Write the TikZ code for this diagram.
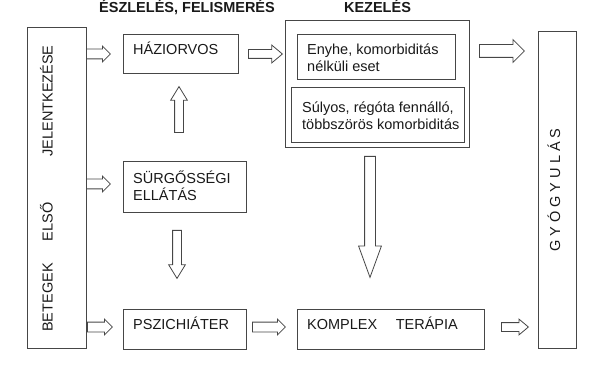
\documentclass[tikz,border=0pt]{standalone}
\usepackage{fontspec}
\setmainfont{Liberation Sans}
\definecolor{dgray}{RGB}{70,70,70}
\definecolor{tblack}{RGB}{25,25,25}
\usetikzlibrary{shapes.arrows}
\newcommand{\txtstrut}{\rule{0pt}{15pt}}
\begin{document}
\begin{tikzpicture}[x=1pt,y=-1pt,
  frbox/.style={draw=dgray,line width=0.9pt,inner sep=0pt},
  frtext/.style={anchor=north west,inner sep=0pt,align=left,text=tblack,
    font=\fontsize{14.5}{17.6}\selectfont},
  vtext/.style={rotate=90,anchor=base west,inner sep=0pt,text=tblack,
    font=\fontsize{14.5}{17.6}\selectfont},
  headtext/.style={anchor=base,inner sep=0pt,text=tblack,
    font=\fontsize{14.5}{17.6}\selectfont\bfseries},
  blockarr/.style={single arrow,draw=dgray,line width=0.8pt,anchor=tail,
    inner xsep=0pt,inner ysep=4.5pt,single arrow head extend=3pt,
    single arrow tip angle=90,minimum height=#1}
]
  \useasboundingbox (0,0) rectangle (605,366);
  % column headings
  \node[headtext] (hdeszl) at (187,13) {ÉSZLELÉS, FELISMERÉS};
  \node[headtext] (hdkez) at (377.5,13) {KEZELÉS};
  % outer columns
  \node[frbox,minimum width=59pt,minimum height=321pt] (betegek) at (56.5,187.5) {};
  \node[vtext] (betegektxt) at (52.5,332) {BETEGEK\hspace{22pt}ELSŐ\hspace{46pt}JELENTKEZÉSE};
  \node[frbox,minimum width=38pt,minimum height=317pt] (gyogy) at (557,189.5) {};
  \node[vtext] (gyogytxt) at (560,252) {G Y Ó G Y U L Á S};
  % detection
  \node[frbox,minimum width=115pt,minimum height=39pt] (hazi) at (180.5,53.5) {};
  \node[frtext] (hazitxt) at (133,39) {\txtstrut HÁZIORVOS};
  \node[frbox,minimum width=123pt,minimum height=51pt] (surg) at (184.5,187) {};
  \node[frtext] (surgtxt) at (133,168) {\txtstrut SÜRGŐSSÉGI\\ELLÁTÁS};
  \node[frbox,minimum width=123pt,minimum height=40pt] (psz) at (184.5,329) {};
  \node[frtext] (psztxt) at (133,314) {\txtstrut PSZICHIÁTER};
  % treatment
  \node[frbox,minimum width=184pt,minimum height=127pt] (kezeles) at (377,83.5) {};
  \node[frbox,minimum width=158pt,minimum height=45pt] (enyhe) at (376,56.5) {};
  \node[frtext] (enyhetxt) at (307,39) {\txtstrut Enyhe, komorbiditás\\nélküli eset};
  \node[frbox,minimum width=173pt,minimum height=55pt] (sulyos) at (377.5,114.5) {};
  \node[frtext] (sulyostxt) at (302,97) {\txtstrut Súlyos, régóta fennálló,\\többszörös komorbiditás};
  \node[frbox,minimum width=187pt,minimum height=40pt] (komplex) at (390.5,329) {};
  \node[frtext] (komplextxt) at (307,314) {\txtstrut KOMPLEX \quad TERÁPIA};
  % block arrows
  \node[blockarr=24pt] (a1) at (86,54) {};
  \node[blockarr=24pt] (a2) at (86,184) {};
  \node[blockarr=25pt] (a3) at (87,327) {};
  \node[blockarr=46pt,shape border rotate=90,inner sep=4pt,
    single arrow head extend=4pt,single arrow tip angle=63] (a4) at (179,133) {};
  \node[blockarr=48pt,shape border rotate=270,inner sep=4pt,
    single arrow head extend=4pt,single arrow tip angle=63] (a5) at (177,230) {};
  \node[blockarr=34pt,inner ysep=4pt,single arrow head extend=4.5pt,
    single arrow tip angle=80] (a6) at (248,54) {};
  \node[blockarr=33pt] (a7) at (252,327) {};
  \node[blockarr=27pt,inner ysep=4pt,single arrow head extend=3.5pt,
    single arrow tip angle=80] (a8) at (501,327) {};
  \node[blockarr=45pt,inner ysep=6pt,single arrow head extend=5pt] (a9) at (479,51) {};
  \node[blockarr=121pt,shape border rotate=270,inner sep=5pt,
    single arrow head extend=6pt,single arrow tip angle=40] (a10) at (370,156) {};
\end{tikzpicture}
\end{document}
